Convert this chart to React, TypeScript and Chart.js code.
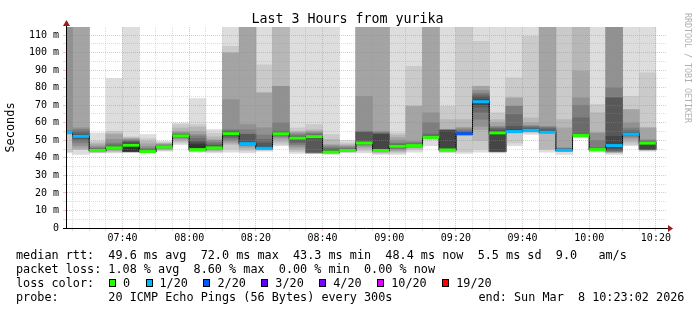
import React, { useEffect, useRef } from "react";
import { Chart, registerables } from "chart.js";

Chart.register(...registerables);

// ---------------- data ----------------
const chartTitle = "Last 3 Hours from yurika";
const yAxisTitle = "Seconds";
const watermark = "RRDTOOL / TOBI OETIKER";
const rangeStart = "07:23:02";
const rangeEnd = "10:23:02";
const stepMinutes = 5; // probe every 300 s
const yAxisMax = 114.6;

// end time of each 5-minute probe slot
const slotEnds = [
  "07:25", "07:30", "07:35", "07:40", "07:45", "07:50", "07:55", "08:00", "08:05",
  "08:10", "08:15", "08:20", "08:25", "08:30", "08:35", "08:40", "08:45", "08:50",
  "08:55", "09:00", "09:05", "09:10", "09:15", "09:20", "09:25", "09:30", "09:35",
  "09:40", "09:45", "09:50", "09:55", "10:00", "10:05", "10:10", "10:15", "10:20",
];

// median rtt per slot (ms)
const medianRtt = [
  54.6, 52.3, 44.2, 45.7, 47.2, 43.6, 46.2, 52.5, 44.7, 45.7, 53.8, 48.1,
  45.5, 53.7, 51.2, 52.1, 43.3, 44.2, 48.5, 44.2, 46.6, 47.0, 51.7, 44.5,
  53.7, 72.0, 54.2, 55.0, 55.7, 54.6, 44.3, 52.7, 44.7, 47.0, 53.5, 48.4,
];

// lost pings (of 20) per slot
const lostPings = [
  1, 1, 0, 0, 0, 0, 0, 0, 0, 0, 0, 1,
  1, 0, 0, 0, 0, 0, 0, 0, 0, 0, 0, 0,
  2, 1, 0, 1, 1, 1, 1, 0, 0, 1, 1, 0,
];

// 20 sorted ping times per slot (ms); values above the axis are slow/timed-out pings
const pings = [
  [42.8, 43.5, 53.3, 53.8, 54.0, 54.2, 54.3, 54.4, 54.5, 54.6, 54.7, 54.8, 55.0, 55.2, 55.4, 120, 120, 120, 120, 120],
  [41.9, 44.6, 44.8, 45.5, 47.0, 48.5, 50.0, 51.0, 51.8, 52.2, 52.4, 53.0, 53.6, 55.0, 56.2, 57.1, 120, 120, 120, 120],
  [42.8, 43.0, 43.3, 43.5, 43.7, 43.9, 44.0, 44.1, 44.2, 44.2, 44.3, 44.5, 44.8, 45.2, 45.7, 46.5, 47.5, 48.5, 49.5, 54.2],
  [42.8, 43.3, 43.8, 44.3, 44.8, 45.1, 45.3, 45.5, 45.6, 45.7, 45.8, 46.0, 46.5, 47.5, 48.5, 50.5, 53.3, 54.2, 55.2, 85.2],
  [43.3, 43.3, 43.4, 43.4, 43.5, 43.5, 43.6, 43.6, 43.7, 43.8, 48.1, 48.5, 49.0, 49.5, 50.0, 50.5, 51.0, 51.4, 52.0, 120],
  [42.8, 43.0, 43.2, 43.3, 43.4, 43.5, 43.5, 43.6, 43.6, 43.6, 43.7, 43.9, 44.3, 44.8, 45.5, 46.5, 48.0, 49.5, 51.0, 53.3],
  [43.8, 44.2, 44.6, 45.0, 45.4, 45.7, 45.9, 46.0, 46.1, 46.2, 46.3, 46.4, 46.6, 46.8, 47.2, 47.6, 48.0, 48.3, 48.7, 49.5],
  [47.6, 48.5, 49.5, 50.5, 51.0, 51.5, 51.9, 52.1, 52.3, 52.5, 52.6, 52.8, 53.1, 53.4, 53.8, 54.5, 55.2, 57.0, 59.0, 59.9],
  [43.3, 43.6, 43.8, 44.0, 44.1, 44.2, 44.3, 44.4, 44.5, 44.6, 47.5, 48.5, 49.5, 51.0, 52.5, 53.3, 55.0, 57.5, 59.0, 73.8],
  [42.8, 43.5, 44.0, 44.5, 44.9, 45.2, 45.4, 45.5, 45.6, 45.7, 45.8, 46.3, 47.0, 48.0, 49.0, 50.0, 50.4, 52.0, 54.0, 56.1],
  [43.3, 45.0, 47.6, 48.5, 49.5, 50.5, 51.5, 52.5, 53.2, 53.6, 54.0, 54.4, 54.9, 55.4, 56.1, 73.2, 99.8, 100.0, 103.6, 120],
  [42.8, 44.0, 45.0, 46.0, 46.8, 47.2, 47.5, 47.8, 48.0, 48.1, 48.2, 48.9, 53.3, 53.5, 56.0, 59.0, 120, 120, 120, 120],
  [43.8, 44.2, 44.6, 44.9, 45.1, 45.2, 45.3, 45.4, 45.5, 45.5, 45.6, 46.6, 48.5, 50.5, 53.0, 57.1, 77.0, 77.0, 93.1, 120],
  [47.0, 47.6, 49.0, 50.5, 51.5, 52.3, 52.8, 53.2, 53.5, 53.7, 53.8, 54.0, 54.4, 55.2, 59.9, 80.8, 80.8, 120, 120, 120],
  [42.5, 43.5, 44.5, 45.5, 46.5, 47.5, 48.5, 49.5, 50.4, 51.1, 51.3, 51.6, 52.0, 52.5, 53.2, 54.0, 54.6, 55.2, 57.1, 120],
  [42.5, 42.6, 42.7, 42.8, 42.9, 43.0, 43.2, 43.3, 51.4, 52.0, 52.2, 52.4, 52.8, 53.3, 54.0, 54.6, 55.2, 56.0, 59.0, 120],
  [41.9, 42.3, 42.6, 42.9, 43.0, 43.1, 43.2, 43.2, 43.3, 43.3, 43.4, 43.8, 44.5, 45.3, 46.2, 47.0, 47.6, 50.5, 53.3, 120],
  [42.8, 43.2, 43.5, 43.7, 43.9, 44.0, 44.1, 44.1, 44.2, 44.2, 44.3, 44.5, 44.7, 45.2, 45.8, 46.5, 47.0, 47.6, 48.5, 50.0],
  [42.8, 44.0, 45.0, 46.0, 46.8, 47.4, 47.8, 48.1, 48.3, 48.5, 48.6, 49.5, 54.5, 54.8, 55.2, 75.1, 120, 120, 120, 120],
  [41.9, 42.5, 43.0, 43.4, 43.7, 43.9, 44.0, 44.1, 44.2, 44.2, 44.3, 53.3, 53.6, 54.0, 54.6, 55.2, 120, 120, 120, 120],
  [41.9, 42.8, 43.5, 44.2, 44.8, 45.3, 45.7, 46.0, 46.3, 46.5, 46.7, 47.0, 47.5, 48.0, 48.5, 50.0, 51.5, 53.0, 54.2, 120],
  [43.3, 44.5, 45.3, 45.8, 46.2, 46.5, 46.7, 46.8, 46.9, 47.0, 47.1, 47.3, 47.6, 48.0, 48.8, 49.5, 69.4, 69.4, 92.2, 120],
  [47.0, 50.5, 51.0, 51.2, 51.4, 51.5, 51.6, 51.6, 51.7, 51.7, 51.8, 52.0, 52.5, 53.5, 60.0, 65.7, 120, 120, 120, 120],
  [42.8, 43.3, 43.6, 43.9, 44.1, 44.2, 44.3, 44.4, 44.5, 44.5, 44.6, 55.5, 55.7, 55.8, 56.0, 56.1, 56.1, 61.8, 69.4, 120],
  [42.5, 43.5, 53.0, 53.2, 53.3, 53.4, 53.5, 53.6, 53.6, 53.7, 53.8, 54.0, 54.5, 55.2, 56.0, 57.1, 57.1, 61.8, 120, 120],
  [43.3, 45.0, 50.0, 56.1, 58.0, 62.0, 66.0, 69.0, 70.4, 72.0, 72.2, 73.2, 75.0, 76.0, 77.0, 78.5, 80.8, 80.8, 106.5, 120],
  [42.8, 43.3, 43.4, 43.5, 43.5, 43.6, 43.7, 43.8, 43.8, 53.3, 54.5, 55.2, 56.0, 56.8, 57.5, 58.0, 60.0, 61.8, 65.7, 120],
  [47.0, 48.5, 54.2, 54.4, 54.6, 54.7, 54.8, 54.9, 54.9, 55.0, 55.1, 56.1, 58.0, 64.7, 69.4, 69.4, 74.2, 74.2, 85.6, 120],
  [53.3, 54.2, 54.8, 55.0, 55.2, 55.3, 55.4, 55.5, 55.6, 55.7, 55.8, 56.2, 56.8, 57.5, 58.0, 58.5, 60.0, 62.8, 109.3, 120],
  [43.3, 44.7, 45.0, 54.2, 54.3, 54.4, 54.5, 54.5, 54.6, 54.6, 54.7, 55.2, 56.0, 57.0, 57.5, 58.0, 120, 120, 120, 120],
  [41.9, 43.5, 43.8, 44.0, 44.1, 44.2, 44.2, 44.3, 44.3, 44.3, 44.4, 44.6, 44.9, 45.2, 45.5, 45.7, 57.1, 61.8, 120, 120],
  [51.5, 52.0, 52.3, 52.4, 52.5, 52.5, 52.6, 52.6, 52.7, 52.7, 52.8, 53.0, 53.3, 62.8, 70.0, 74.2, 89.4, 120, 120, 120],
  [43.3, 43.8, 44.0, 44.2, 44.3, 44.4, 44.5, 44.6, 44.7, 44.7, 44.8, 45.0, 45.3, 45.7, 50.0, 54.2, 54.2, 65.7, 70.4, 120],
  [41.9, 42.8, 43.0, 43.2, 43.5, 43.8, 44.0, 44.5, 45.5, 46.8, 47.2, 52.3, 74.2, 74.2, 79.9, 120, 120, 120, 120, 120],
  [47.0, 47.6, 49.0, 50.5, 51.5, 52.3, 52.8, 53.1, 53.3, 53.4, 53.6, 54.0, 54.5, 55.5, 57.0, 59.9, 67.5, 67.5, 75.1, 120],
  [43.8, 44.2, 44.5, 44.6, 44.7, 44.7, 44.8, 44.9, 45.0, 48.2, 48.4, 48.6, 49.0, 49.5, 50.0, 50.4, 57.1, 57.1, 88.4, 120],
];

const xTickLabels = ["07:40", "08:00", "08:20", "08:40", "09:00", "09:20", "09:40", "10:00", "10:20"];

const lossLabels = ["0", "1/20", "2/20", "3/20", "4/20", "10/20", "19/20"];
const lossThresholds = [0, 1, 2, 3, 4, 10, 19];
const lossColors = ["#26ff00", "#00b8ff", "#0059ff", "#5e00ff", "#7e00ff", "#dd00ff", "#ff0000"];

const legendMedian = "median rtt:  49.6 ms avg  72.0 ms max  43.3 ms min  48.4 ms now  5.5 ms sd  9.0   am/s";
const legendLoss = "packet loss: 1.08 % avg  8.60 % max  0.00 % min  0.00 % now";
const legendLossTitle = "loss color:";
const legendProbe = "probe:       20 ICMP Echo Pings (56 Bytes) every 300s";
const legendEnd = "end: Sun Mar  8 10:23:02 2026";

// ---------------- helpers ----------------
const toMin = (t: string) => {
  const [h, m, s] = t.split(":").map(Number);
  return h * 60 + m + (s || 0) / 60;
};
const fmt = (v: number) => {
  const r = Math.round(v);
  const h = Math.floor(r / 60);
  const m = r % 60;
  return `${String(h).padStart(2, "0")}:${String(m).padStart(2, "0")}`;
};
const lossColorFor = (n: number) => {
  let c = lossColors[0];
  lossThresholds.forEach((t, i) => {
    if (n >= t) c = lossColors[i];
  });
  return c;
};

const MONO = '"DejaVu Sans Mono", monospace';
const RED_GRID = "rgba(255,90,90,0.42)";
const GREY_GRID = "rgba(150,150,150,0.32)";

const axisArrows = {
  id: "axisArrows",
  afterDraw(chart: any) {
    const { ctx, chartArea } = chart;
    const { left, right, top, bottom } = chartArea;
    const ax = Math.round(left - 0.5) + 0.5;
    const ay = Math.round(bottom - 0.5) + 0.5;
    ctx.save();
    ctx.strokeStyle = "#000";
    ctx.lineWidth = 1;
    ctx.beginPath();
    ctx.moveTo(ax, bottom);
    ctx.lineTo(ax, top - 2);
    ctx.moveTo(right - 1, ay);
    ctx.lineTo(right + 3, ay);
    ctx.stroke();
    ctx.fillStyle = "#9a1b1b";
    ctx.beginPath();
    ctx.moveTo(ax, top - 7);
    ctx.lineTo(ax - 3.5, top - 1);
    ctx.lineTo(ax + 3.5, top - 1);
    ctx.closePath();
    ctx.fill();
    ctx.beginPath();
    ctx.moveTo(right + 7, ay);
    ctx.lineTo(right + 2, ay - 3.5);
    ctx.lineTo(right + 2, ay + 3.5);
    ctx.closePath();
    ctx.fill();
    ctx.restore();
  },
};

export default function App() {
  const ref = useRef<HTMLCanvasElement | null>(null);

  useEffect(() => {
    if (!ref.current) return;
    const centers = slotEnds.map((t) => toMin(t) - stepMinutes / 2);
    const layers = pings[0].length / 2;

    const smokeSets: any[] = [];
    for (let k = layers; k >= 1; k--) {
      const g = Math.floor((190 / layers) * (layers - k)) + 50;
      smokeSets.push({
        type: "bar",
        label: `smoke${k}`,
        data: pings.map((p, c) => ({ x: centers[c], y: [p[k - 1], p[p.length - k]] })),
        backgroundColor: `rgb(${g},${g},${g})`,
        borderWidth: 0,
        grouped: false,
        barPercentage: 1,
        categoryPercentage: 1,
        clip: 0,
        order: 2 + (layers - k),
      });
    }

    const halfSlotPx = (ctx: any) => {
      const s = ctx.chart.scales.x;
      if (!s) return 8;
      return Math.abs(s.getPixelForValue(stepMinutes) - s.getPixelForValue(0)) / 2;
    };

    const medianMarks = {
      type: "line",
      label: "median",
      data: medianRtt.map((m, c) => ({ x: centers[c], y: m })),
      showLine: false,
      pointStyle: "line",
      pointRadius: halfSlotPx,
      pointHoverRadius: halfSlotPx,
      pointBorderWidth: 3,
      pointBorderColor: lostPings.map(lossColorFor),
      pointBackgroundColor: lostPings.map(lossColorFor),
      clip: 0,
      order: 0,
    };

    const medianStep = {
      type: "line",
      label: "medianStep",
      data: medianRtt.map((m, c) => ({ x: toMin(slotEnds[c]), y: m })),
      stepped: "after",
      borderColor: "#000",
      borderWidth: 1,
      pointRadius: 0,
      fill: false,
      clip: 0,
      order: 1,
    };

    const chart = new Chart(ref.current, {
      type: "bar",
      data: { datasets: [medianMarks, medianStep, ...smokeSets] as any },
      options: {
        responsive: false,
        animation: false,
        devicePixelRatio: 1,
        events: [],
        layout: { padding: { left: 0, top: 27, right: 31, bottom: 0 } },
        plugins: {
          legend: { display: false },
          tooltip: { enabled: false },
          title: { display: false },
        },
        scales: {
          x: {
            type: "linear",
            min: toMin(rangeStart),
            max: toMin(rangeEnd),
            offset: false,
            afterFit: (s: any) => {
              s.height = 82;
            },
            afterBuildTicks: (s: any) => {
              const ticks: any[] = [];
              const first = Math.ceil(s.min / stepMinutes) * stepMinutes;
              for (let v = first; v <= s.max; v += stepMinutes) ticks.push({ value: v });
              s.ticks = ticks;
            },
            ticks: {
              autoSkip: false,
              maxRotation: 0,
              minRotation: 0,
              padding: 1,
              color: "#000",
              font: { family: MONO, size: 10 },
              callback: (v: any) => (xTickLabels.includes(fmt(Number(v))) ? fmt(Number(v)) : ""),
            },
            grid: {
              offset: false,
              z: 1,
              tickLength: 3,
              lineWidth: 1,
              color: (c: any) => (c.tick && xTickLabels.includes(fmt(c.tick.value)) ? RED_GRID : GREY_GRID),
              tickColor: (c: any) => (c.tick && xTickLabels.includes(fmt(c.tick.value)) ? RED_GRID : GREY_GRID),
            },
            border: { display: true, color: "#000", width: 1, z: 2, dash: [1, 1] },
          } as any,
          y: {
            type: "linear",
            min: 0,
            max: yAxisMax,
            afterFit: (s: any) => {
              s.width = 66;
            },
            ticks: {
              stepSize: 5,
              includeBounds: false,
              autoSkip: false,
              padding: 4,
              color: "#000",
              font: { family: MONO, size: 10 },
              callback: (v: any) => {
                const n = Number(v);
                if (n % 10 !== 0) return "";
                return n === 0 ? "0" : `${n} m`;
              },
            },
            grid: {
              z: 1,
              tickLength: 3,
              lineWidth: 1,
              color: (c: any) => {
                const v = c.tick ? c.tick.value : 1;
                if (v === 0) return "#000";
                return v % 10 === 0 ? RED_GRID : GREY_GRID;
              },
              tickColor: (c: any) => {
                const v = c.tick ? c.tick.value : 1;
                if (v === 0) return "#000";
                return v % 10 === 0 ? RED_GRID : GREY_GRID;
              },
            },
            border: { display: true, color: "#000", width: 1, z: 2, dash: [1, 1] },
            title: {
              display: true,
              text: yAxisTitle,
              color: "#000",
              font: { family: MONO, size: 11.9 },
              padding: { top: 4, bottom: 4 },
            },
          } as any,
        },
      },
      plugins: [axisArrows],
    } as any);

    return () => chart.destroy();
  }, []);

  const lineStyle = (top: number, left: number): React.CSSProperties => ({
    position: "absolute",
    left,
    top,
    font: `11.8px ${MONO}`,
    lineHeight: "1.2",
    whiteSpace: "pre",
    color: "#000",
  });

  return (
    <div
      style={{
        position: "absolute",
        left: 0,
        top: 0,
        width: 697,
        height: 310,
        background: "#fff",
        overflow: "hidden",
      }}
    >
      <canvas
        ref={ref}
        width={697}
        height={310}
        style={{ position: "absolute", left: 0, top: 0, width: 697, height: 310, display: "block" }}
      />
      <div
        style={{
          position: "absolute",
          left: 0,
          top: 11.4,
          width: 695,
          textAlign: "center",
          font: `13.3px ${MONO}`,
          lineHeight: "1.2",
          whiteSpace: "pre",
          color: "#000",
        }}
      >
        {chartTitle}
      </div>
      <div
        style={{
          position: "absolute",
          left: 684,
          top: 13,
          writingMode: "vertical-rl",
          font: `8.3px ${MONO}`,
          lineHeight: "1",
          whiteSpace: "pre",
          color: "#b0b0b0",
        }}
      >
        {watermark}
      </div>
      <div style={lineStyle(247.8, 16)}>{legendMedian}</div>
      <div style={lineStyle(261.8, 16)}>{legendLoss}</div>
      <div style={lineStyle(275.8, 16)}>{legendLossTitle}</div>
      <div
        style={{
          position: "absolute",
          left: 108.9,
          top: 275.8,
          display: "flex",
          alignItems: "flex-start",
          font: `11.8px ${MONO}`,
          lineHeight: "1.2",
          whiteSpace: "pre",
          color: "#000",
        }}
      >
        {lossLabels.map((l, i) => (
          <div key={l} style={{ display: "flex", alignItems: "flex-start", marginRight: 15.5 }}>
            <div
              style={{
                width: 7,
                height: 8,
                marginTop: 3.3,
                marginRight: 7,
                boxSizing: "border-box",
                border: "1px solid #000",
                background: lossColors[i],
              }}
            />
            <span>{l}</span>
          </div>
        ))}
      </div>
      <div style={lineStyle(289.8, 16)}>{legendProbe}</div>
      <div style={lineStyle(289.8, 478.5)}>{legendEnd}</div>
    </div>
  );
}
